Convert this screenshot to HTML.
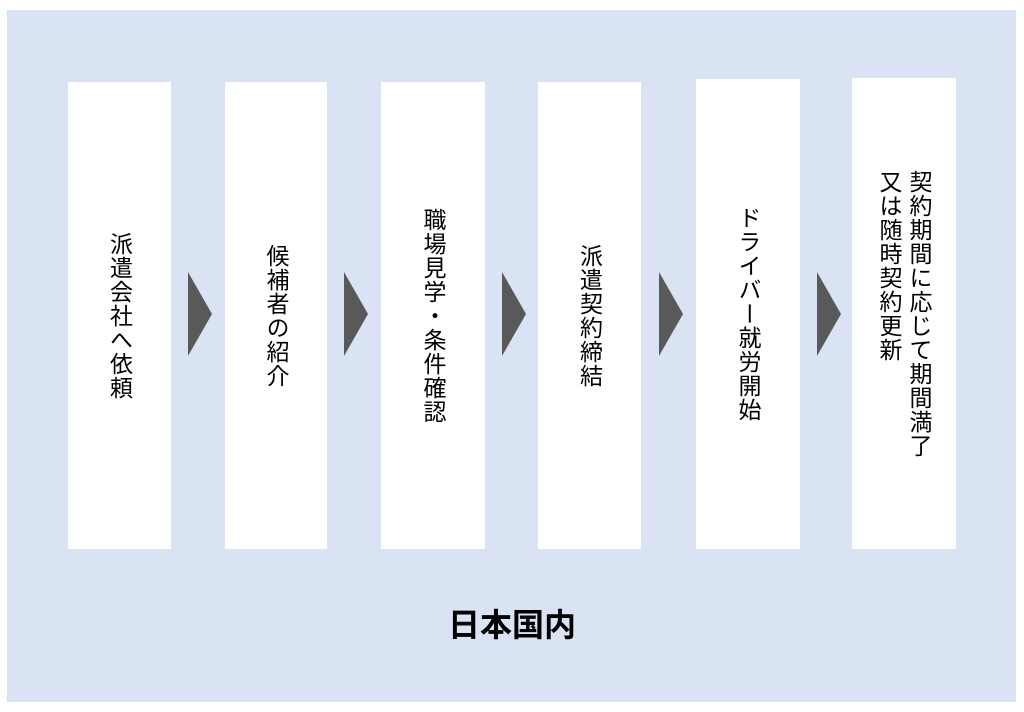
<!DOCTYPE html>
<html><head><meta charset="utf-8"><style>
body{margin:0;width:1024px;height:712px;background:#fff;position:relative;overflow:hidden;font-family:"Liberation Sans","Noto Sans CJK JP",sans-serif}
.bg{position:absolute;left:7px;top:10px;width:1009px;height:692px;background:#dae3f3}
.box{position:absolute;background:#fff;top:82px;height:467px;display:flex;align-items:center;justify-content:center}
.t{writing-mode:vertical-rl;font-size:23px;line-height:28px;color:#000;letter-spacing:1px}
.arr{position:absolute;top:272px;width:0;height:0;border-top:42px solid transparent;border-bottom:42px solid transparent;border-left:24px solid #595959}
.foot{position:absolute;left:0;width:1024px;top:600px;text-align:center;font-size:32px;font-weight:bold}
</style></head><body>
<div class="bg"></div>
<div class="box" style="left:68px;width:103px"><div class="t">派遣会社へ依頼</div></div>
<div class="box" style="left:225px;width:102px"><div class="t">候補者の紹介</div></div>
<div class="box" style="left:381px;width:104px"><div class="t">職場見学・条件確認</div></div>
<div class="box" style="left:538px;width:103px"><div class="t">派遣契約締結</div></div>
<div class="box" style="left:696px;width:104px;top:79px;height:470px"><div class="t">ドライバー就労開始</div></div>
<div class="box" style="left:852px;width:104px;top:78px;height:471px"><div class="t" style="line-height:30px">契約期間に応じて期間満了<br>又は随時契約更新</div></div>
<div class="arr" style="left:188px"></div>
<div class="arr" style="left:344px"></div>
<div class="arr" style="left:502px"></div>
<div class="arr" style="left:659px"></div>
<div class="arr" style="left:817px"></div>
<div class="foot">日本国内</div>
</body></html>
